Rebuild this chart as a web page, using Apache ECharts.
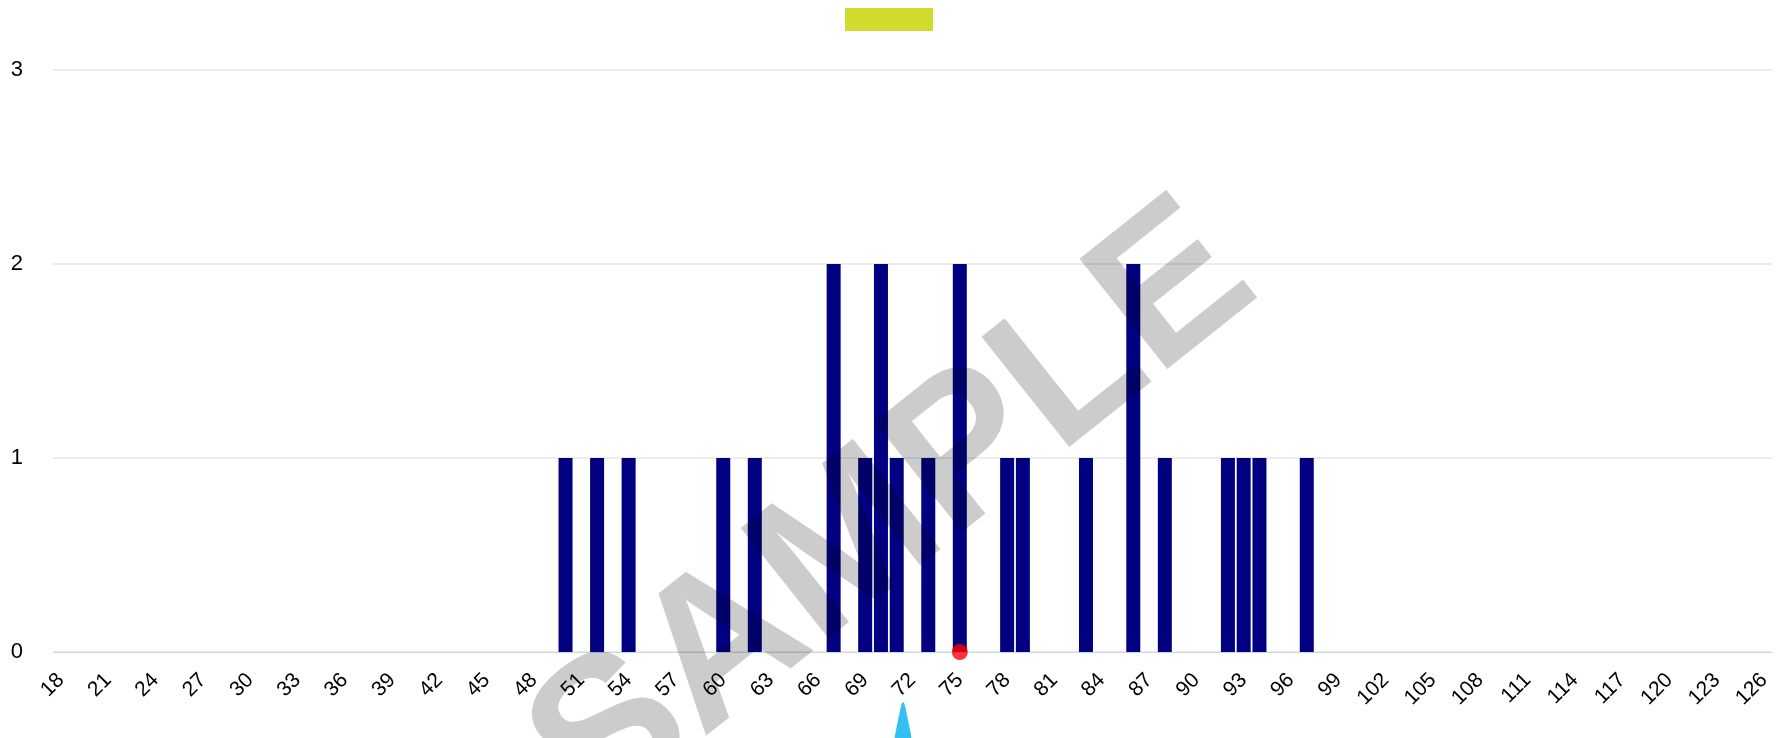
<!DOCTYPE html>
<html>
<head>
<meta charset="utf-8">
<script src="https://cdn.jsdelivr.net/npm/echarts@6/dist/echarts.min.js"></script>
<style>
html,body{margin:0;padding:0;background:#fff;}
#chart{width:1785px;height:738px;}
</style>
</head>
<body>
<div id="chart"></div>
<script>
// Score categories (x axis)
const categories = [18,19,20,21,22,23,24,25,26,27,28,29,30,31,32,33,34,35,36,37,38,39,40,41,42,43,44,45,46,47,48,49,50,51,52,53,54,55,56,57,58,59,60,61,62,63,64,65,66,67,68,69,70,71,72,73,74,75,76,77,78,79,80,81,82,83,84,85,86,87,88,89,90,91,92,93,94,95,96,97,98,99,100,101,102,103,104,105,106,107,108,109,110,111,112,113,114,115,116,117,118,119,120,121,122,123,124,125,126];
// Non-zero counts
const scoreValues = [50,52,54,60,62,67,69,70,71,73,75,78,79,83,86,88,92,93,94,97];
const scoreCounts = [ 1, 1, 1, 1, 1, 2, 1, 2, 1, 1, 2, 1, 1, 1, 2, 1, 1, 1, 1, 1];
// Markers
const redDot = [75, 0];
const blueMarker = [71.4, 0];

const counts = categories.map(c => {
  const i = scoreValues.indexOf(c);
  return i >= 0 ? scoreCounts[i] : 0;
});

const chart = echarts.init(document.getElementById('chart'));
chart.setOption({
  animation: false,
  backgroundColor: '#fff',
  textStyle: { fontFamily: '"Liberation Sans", Arial, sans-serif' },
  grid: { left: 53, right: 13, top: 70, bottom: 86 },
  legend: {
    left: 845, top: 8,
    padding: 0,
    itemWidth: 88, itemHeight: 23,
    icon: 'rect',
    data: ['\u00a0'],
    formatter: () => '',
    selectedMode: false
  },
  xAxis: [
    {
      type: 'category',
      data: categories,
      boundaryGap: true,
      axisLine: { lineStyle: { color: '#ccd6eb', width: 1 } },
      axisTick: { show: false },
      axisLabel: { interval: 2, rotate: 45, margin: 25, fontSize: 21, color: '#000' },
      splitLine: { show: false }
    },
    { type: 'value', min: 17.5, max: 126.5, show: false }
  ],
  yAxis: {
    type: 'value', min: 0, max: 3, interval: 1,
    axisLine: { show: false },
    axisTick: { show: false },
    axisLabel: { fontSize: 22, color: '#000', margin: 30, padding: [6, 0, 0, 0] },
    splitLine: { lineStyle: { color: '#e6e6e6', width: 1.5 } }
  },
  series: [
    {
      name: '\u00a0',
      type: 'bar',
      data: [],
      itemStyle: { color: '#cfdc2d' }
    },
    {
      name: 'counts',
      type: 'bar',
      data: counts,
      barWidth: 14,
      barGap: '-100%',
      itemStyle: { color: '#000080' },
      z: 2
    },
    {
      name: 'score',
      type: 'scatter',
      xAxisIndex: 1,
      data: [redDot],
      symbol: 'circle',
      symbolSize: 16,
      itemStyle: { color: '#ff0000' },
      clip: false,
      z: 5
    },
    {
      name: 'marker',
      type: 'scatter',
      xAxisIndex: 1,
      data: [blueMarker],
      symbol: 'path://M9 0 C9.8 0 10.5 2 11.5 6 L14 18 L16.8 32 L18 40 L0 40 L1.2 32 L4 18 L6.5 6 C7.5 2 8.2 0 9 0 Z',
      symbolSize: [18, 40],
      symbolOffset: [0, 70],
      itemStyle: { color: '#00b0f0' },
      clip: false,
      z: 5
    }
  ],
  graphic: [{
    type: 'text',
    x: 894, y: 514,
    rotation: 38.5 * Math.PI / 180,
    z: 100,
    silent: true,
    style: {
      text: 'SAMPLE',
      fontSize: 205,
      fontWeight: 'bold',
      fontFamily: '"Liberation Sans", Arial, sans-serif',
      fill: 'rgba(0,0,0,0.2)',
      align: 'center',
      verticalAlign: 'middle',
      textAlign: 'center',
      textVerticalAlign: 'middle'
    }
  }]
});
</script>
</body>
</html>
